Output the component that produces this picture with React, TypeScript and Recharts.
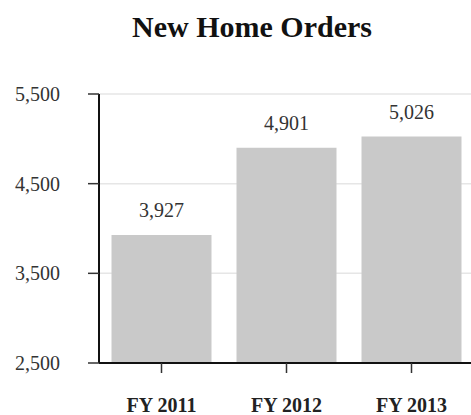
import React from "react";
import { BarChart, Bar, XAxis, YAxis, CartesianGrid, LabelList } from "recharts";

const categories = ["FY 2011", "FY 2012", "FY 2013"];
const orders = [3927, 4901, 5026];
const yTicks = [2500, 3500, 4500, 5500];
const title = "New Home Orders";

const data = categories.map((c, i) => ({ name: c, value: orders[i] }));
const fmt = (v: number) => v.toLocaleString("en-US");
const FONT = "'Liberation Serif', 'Times New Roman', serif";

export default function App() {
  return (
    <div
      style={{
        position: "fixed",
        left: 0,
        top: 0,
        width: 471,
        height: 415,
        overflow: "hidden",
        background: "#fff",
      }}
    >
      <svg width={471} height={60} style={{ position: "absolute", left: 0, top: 0 }}>
        <text
          x={252}
          y={37}
          textAnchor="middle"
          fontFamily={FONT}
          fontWeight="bold"
          fontSize={30}
          fill="#111"
        >
          {title}
        </text>
      </svg>
      <div style={{ position: "absolute", left: 0, top: 0 }}>
        <BarChart
          width={480}
          height={415}
          data={data}
          margin={{ top: 94, right: 6, bottom: 0, left: 0 }}
          barCategoryGap="10%"
        >
          <CartesianGrid vertical={false} stroke="#e6e6e6" strokeWidth={1.5} />
          <YAxis
            width={99}
            domain={[2500, 5500]}
            ticks={yTicks}
            interval={0}
            tickFormatter={fmt}
            tickSize={11}
            tickMargin={28}
            axisLine={{ stroke: "#111", strokeWidth: 2 }}
            tickLine={{ stroke: "#333", strokeWidth: 1.5 }}
            tick={{ fontFamily: FONT, fontSize: 20, fill: "#333" }}
          />
          <XAxis
            dataKey="name"
            height={52}
            tickSize={10}
            tickMargin={25}
            axisLine={{ stroke: "#111", strokeWidth: 2 }}
            tickLine={{ stroke: "#333", strokeWidth: 1.5 }}
            tick={{ fontFamily: FONT, fontSize: 20, fill: "#222", fontWeight: "bold" }}
          />
          <Bar dataKey="value" fill="#c9c9c9" isAnimationActive={false}>
            <LabelList
              dataKey="value"
              position="top"
              offset={18}
              formatter={(v: any) => fmt(Number(v))}
              style={{ fontFamily: FONT, fontSize: 20, fill: "#333" }}
            />
          </Bar>
        </BarChart>
      </div>
    </div>
  );
}
